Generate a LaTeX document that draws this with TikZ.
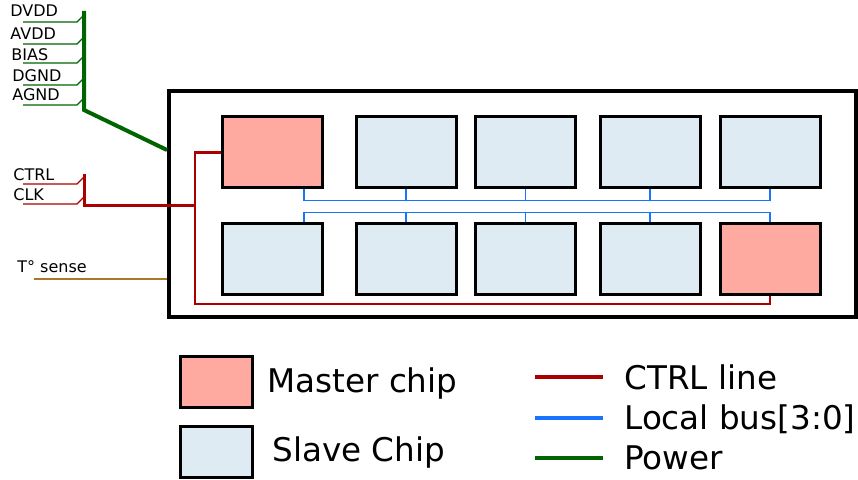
\documentclass[tikz,border=0pt]{standalone}
\usepackage{fontspec}
\setmainfont{DejaVu Sans}
\usetikzlibrary{positioning}
\definecolor{masterred}{RGB}{255,170,160}
\definecolor{slaveblue}{RGB}{223,235,242}
\definecolor{ctrlred}{RGB}{170,0,0}
\definecolor{busblue}{RGB}{25,115,255}
\definecolor{pwrgreen}{RGB}{0,100,0}
\definecolor{tsbrown}{RGB}{170,120,40}
\begin{document}
\begin{tikzpicture}[x=0.5pt,y=-0.5pt,
  chip/.style={draw,line width=1.5pt,minimum width=50pt,minimum height=35.5pt,inner sep=0pt},
  master/.style={chip,fill=masterred},
  slave/.style={chip,fill=slaveblue},
  ctrl/.style={draw=ctrlred,line width=1.2pt},
  bus/.style={draw=busblue,line width=0.8pt},
  pwr/.style={draw=pwrgreen,line width=2pt},
  pin/.style={font=\fontsize{8}{9.6}\selectfont,anchor=base west,inner sep=0pt},
  leg/.style={font=\fontsize{16.3}{19.5}\selectfont,anchor=base west,inner sep=0pt}]
\useasboundingbox (0,0) rectangle (858,480);
\node[draw,line width=2pt,minimum width=343.5pt,minimum height=113pt,inner sep=0pt] (brd) at (512.5,204) {};
\node[master] (m1) at (272,152.5) {};
\foreach \n/\x in {s1/406,s2/525.5,s3/650,s4/770}
  \node[slave] (\n) at (\x,152.5) {};
\foreach \n/\x in {s5/272,s6/406,s7/525.5,s8/650}
  \node[slave] (\n) at (\x,259.5) {};
\node[master] (m2) at (770,259.5) {};
\draw[bus] ([xshift=16pt]m1.south) -- ++(0,11) -| (s4.south);
\foreach \n in {s1,s2,s3}
  \draw[bus] (\n.south) -- ++(0,11);
\draw[bus] ([xshift=16pt]s5.north) -- ++(0,-10) -| (m2.north);
\foreach \n in {s6,s7,s8}
  \draw[bus] (\n.north) -- ++(0,-10);
\coordinate (cb) at (195,304);
\draw[ctrl] (m1.west) -| (cb) -| (m2.south);
\coordinate (ck) at (84,174);
\coordinate (cj) at (195,206);
\draw[ctrl,line width=1.5pt] (ck) |- (cj);
\foreach \t/\b/\l in {CTRL/181/184,CLK/201/204} {
  \node[pin] (\t) at (13,\b) {\t};
  \draw[ctrlred,line width=0.6pt] (23,\l) -- (77,\l) -- (84,\l-7);
}
\draw[pwr] (84,11) -- (84,110) -- (brd.west |- 0,150);
\foreach \t/\x/\b/\l in {DVDD/10/17/22,AVDD/10/40/44,BIAS/11/61/63,DGND/12/82/85,AGND/12/101/105} {
  \node[pin] (\t) at (\x,\b) {\t};
  \draw[pwrgreen,line width=0.6pt] (23,\l) -- (77,\l) -- (84,\l-7);
}
\node[pin] (tsns) at (17,273) {T° sense};
\draw[tsbrown,line width=0.6pt] (34,279) -- (brd.west |- 0,279);
\node[master,minimum width=36pt,minimum height=25.5pt] (lgm) at (216,382.5) {};
\node[slave,minimum width=36pt,minimum height=25.5pt] (lgs) at (216,452.5) {};
\node[leg] (lgmt) at (267,393) {Master chip};
\node[leg] (lgst) at (272,462) {Slave Chip};
\draw[ctrl,line width=2pt] (535,377) -- (603,377);
\draw[bus,line width=2pt] (535,418) -- (603,418);
\draw[pwr] (535,458) -- (603,458);
\node[leg] (lgc) at (624,390) {CTRL line};
\node[leg] (lgb) at (624,430) {Local bus[3:0]};
\node[leg] (lgp) at (624,470) {Power};
\end{tikzpicture}
\end{document}
